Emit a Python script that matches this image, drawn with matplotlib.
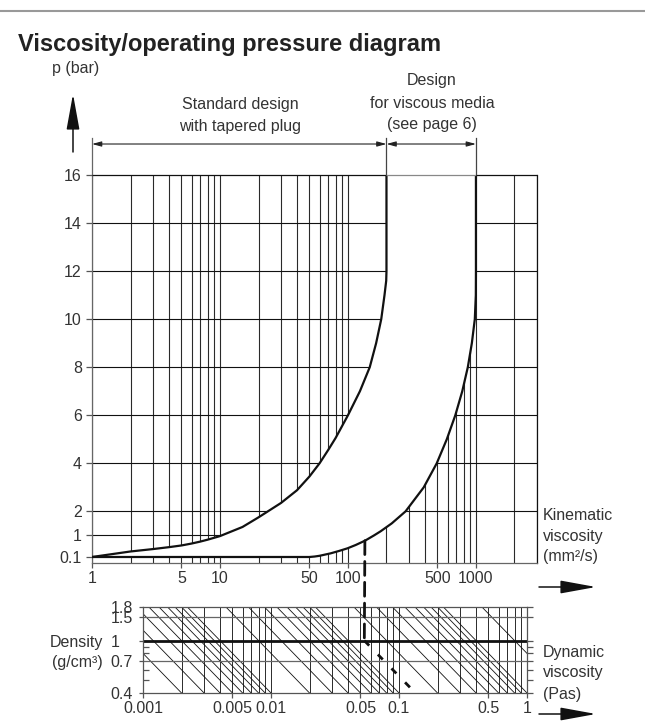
import numpy as np
import matplotlib.pyplot as plt
from matplotlib.patches import Polygon, ConnectionPatch
from matplotlib.lines import Line2D

plt.rcParams['font.family'] = ['Liberation Sans', 'DejaVu Sans']

W, H = 645, 724

# upper boundary of the standard design (kinematic viscosity mm2/s, pressure bar)
std_nu = [1, 2, 3, 4, 5, 6, 7, 8, 10, 15, 20, 30, 40, 50, 60, 70, 80, 100,
          124, 148, 166, 182, 193, 199, 200, 200]
std_p = [0.1, 0.33, 0.43, 0.51, 0.58, 0.66, 0.74, 0.82, 0.97, 1.35, 1.75, 2.35,
         2.88, 3.45, 4.0, 4.55, 5.05, 6.0, 7.0, 8.0, 9.0, 10.0, 11.0, 11.6, 12.0, 16.0]
# boundary of the design for viscous media
visc_nu = [1, 50, 55, 60, 73, 85, 99, 115, 136, 160, 180, 220, 282, 391, 494,
           592, 690, 782, 864, 929, 980, 998, 1000, 1000]
visc_p = [0.1, 0.1, 0.12, 0.15, 0.25, 0.35, 0.46, 0.6, 0.78, 1.0, 1.17, 1.5, 2.0,
          3.0, 4.0, 5.0, 6.0, 7.0, 8.0, 9.0, 10.0, 11.0, 12.0, 16.0]

kin_grid = [1, 2, 3, 4, 5, 6, 7, 8, 9, 10, 20, 30, 40, 50, 60, 70, 80, 90, 100,
            200, 300, 400, 500, 600, 700, 800, 900, 1000, 2000, 3000]
p_grid = [2, 4, 6, 8, 10, 12, 14]
kin_ticks = [1, 5, 10, 50, 100, 500, 1000]
p_ticks = [0.1, 1, 2, 4, 6, 8, 10, 12, 14, 16]
p_labels = ['0.1', '1', '2', '4', '6', '8', '10', '12', '14', '16']

dyn_grid = [0.001, 0.002, 0.003, 0.004, 0.005, 0.006, 0.007, 0.008, 0.009,
            0.01, 0.02, 0.03, 0.04, 0.05, 0.06, 0.07, 0.08, 0.09,
            0.1, 0.2, 0.3, 0.4, 0.5, 0.6, 0.7, 0.8, 0.9, 1.0]
dyn_ticks = [0.001, 0.005, 0.01, 0.05, 0.1, 0.5, 1]
dyn_labels = ['0.001', '0.005', '0.01', '0.05', '0.1', '0.5', '1']
dens_ticks = [0.4, 0.7, 1.0, 1.5, 1.8]
dens_labels = ['0.4', '0.7', '1', '1.5', '1.8']
dens_minor = [0.5, 0.6, 0.8, 0.9]
# diagonal conversion lines, given by where they meet the 0.4 density line
diag_ends = [0.002, 0.003, 0.004, 0.005, 0.006, 0.007, 0.008, 0.009, 0.01,
             0.02, 0.03, 0.04, 0.05, 0.06, 0.07, 0.08, 0.09, 0.1,
             0.2, 0.3, 0.4, 0.5, 0.6, 0.7, 0.8, 0.9, 1.0, 2.0]

# example reading (dashed)
ex_nu, ex_p = 135.6, 0.78
ex_eta, ex_rho = 0.0536, 1.0
ex_eta_end, ex_rho_end = 0.125, 0.43


def fx(x):
    return x / W


def fy(y):
    return 1 - y / H


fig = plt.figure(figsize=(W / 100, H / 100), dpi=100)
txt = '#333333'

# ---------------- main diagram ----------------
ax = fig.add_axes([fx(92), fy(563), fx(445), 388 / H])
ax.set_xscale('log')
ax.set_xlim(1, 3000)
ax.set_ylim(-0.15, 16)

ax.vlines(kin_grid, -0.15, 16, color='#2a2a2a', lw=0.8, zorder=1)
ax.hlines(p_grid, 1, 3000, color='#111111', lw=0.8, zorder=1)
ax.hlines(1, 1, 10, color='#111111', lw=0.8, zorder=1)

band = list(zip(std_nu, std_p)) + list(zip(visc_nu[::-1], visc_p[::-1]))
ax.add_patch(Polygon(band, closed=True, facecolor='white', edgecolor='none', zorder=2))

ax.plot(std_nu, std_p, color='#111111', lw=1.6, zorder=3, solid_joinstyle='round')
ax.plot(visc_nu, visc_p, color='#111111', lw=1.6, zorder=3, solid_joinstyle='round')

ax.hlines(16, 1, 200, color='#111111', lw=0.9, zorder=3, clip_on=False)
ax.hlines(16, 200, 1000, color='#888888', lw=0.9, zorder=3, clip_on=False)
ax.hlines(16, 1000, 3000, color='#111111', lw=0.9, zorder=3, clip_on=False)

ax.spines['top'].set_visible(False)
ax.spines['left'].set_color('#666666')
ax.spines['bottom'].set_color('#666666')
ax.spines['right'].set_color('#111111')
for s in ['left', 'bottom', 'right']:
    ax.spines[s].set_linewidth(0.9)

ax.set_xticks(kin_ticks)
ax.set_xticklabels([str(v) for v in kin_ticks])
ax.xaxis.set_minor_locator(plt.NullLocator())
ax.set_yticks(p_ticks)
ax.set_yticklabels(p_labels)
ax.tick_params(axis='x', direction='out', length=3.6, width=0.9, color='#555555',
               labelsize=11.5, labelcolor=txt, pad=2)
ax.tick_params(axis='y', direction='out', length=4.3, width=0.9, color='#555555',
               labelsize=11.5, labelcolor=txt, pad=3)

# design ranges above the diagram
ytop = 17.54
yarr = 17.29
ax.plot([1, 1], [16, ytop], color='#666666', lw=0.9, clip_on=False)
ax.plot([200, 200], [16, ytop], color='#444444', lw=0.9, clip_on=False)
ax.plot([1000, 1000], [16, ytop], color='#444444', lw=0.9, clip_on=False)
for a, b in [(1, 200), (200, 1000)]:
    ax.annotate('', xy=(a, yarr), xytext=(b, yarr), annotation_clip=False,
                arrowprops=dict(arrowstyle='<|-|>,head_length=0.55,head_width=0.15',
                                lw=0.8, color='#222222', shrinkA=0, shrinkB=0,
                                mutation_scale=10))

# ---------------- density / dynamic viscosity ----------------
ax2 = fig.add_axes([fx(143), fy(693), fx(384), 86 / H])
ax2.set_xscale('log')
ax2.set_yscale('log')
ax2.set_xlim(0.001, 1)
ax2.set_ylim(0.4, 1.8)

ax2.vlines(dyn_grid, 0.4, 1.8, color='#2a2a2a', lw=0.7, zorder=1)
for v in diag_ends:
    ax2.plot([v * 0.4 / 1.8, v], [1.8, 0.4], color='#111111', lw=0.6, zorder=1)
ax2.hlines([1.5, 0.7], 0.001, 1, color='#666666', lw=0.9, zorder=2)
ax2.hlines(1.0, 0.001, 1, color='#111111', lw=2.0, zorder=2)
for s in ax2.spines.values():
    s.set_color('#555555')
    s.set_linewidth(0.9)

ax2.set_xticks(dyn_ticks)
ax2.set_xticklabels(dyn_labels)
ax2.xaxis.set_minor_locator(plt.NullLocator())
ax2.set_yticks(dens_ticks)
ax2.set_yticklabels(dens_labels)
ax2.set_yticks(dens_minor, minor=True)
ax2.yaxis.set_minor_formatter(plt.NullFormatter())
ax2.tick_params(axis='x', direction='out', length=3.6, width=0.9, color='#555555',
                labelsize=11.5, labelcolor=txt, pad=2)
ax2.tick_params(axis='y', which='major', direction='out', length=3.2, width=0.9,
                color='#555555', labelsize=11.5, labelcolor=txt, pad=20)
ax2.tick_params(axis='y', which='minor', direction='in', length=4, width=0.9,
                color='#555555')
for lbl in ax2.get_yticklabels():
    lbl.set_ha('left')

ax2r = ax2.twinx()
ax2r.set_yscale('log')
ax2r.set_ylim(0.4, 1.8)
ax2r.set_yticks(dens_ticks)
ax2r.set_yticks(dens_minor, minor=True)
ax2r.yaxis.set_major_formatter(plt.NullFormatter())
ax2r.yaxis.set_minor_formatter(plt.NullFormatter())
ax2r.tick_params(axis='y', which='both', direction='out', length=4, width=0.9,
                 color='#555555')
for s in ax2r.spines.values():
    s.set_visible(False)

# example reading
con = ConnectionPatch(xyA=(ex_nu, ex_p), coordsA=ax.transData,
                      xyB=(ex_eta, ex_rho), coordsB=ax2.transData,
                      color='#111111', lw=2.0, linestyle=(0, (5, 2.5)), zorder=5)
fig.add_artist(con)
ax2.plot([ex_eta, ex_eta_end], [ex_rho, ex_rho_end], color='#111111', lw=2.0,
         linestyle=(0, (2.5, 4.5)), zorder=5)

# ---------------- texts and arrows ----------------
fig.add_artist(Line2D([0, 1], [fy(11), fy(11)], color='#999999', lw=1.5))
fig.text(fx(18), fy(51), 'Viscosity/operating pressure diagram', fontsize=17,
         fontweight='bold', color='#222222', ha='left', va='baseline')

fig.text(fx(76), fy(68), 'p (bar)', fontsize=11.5, color=txt, ha='center', va='center')
fig.text(fx(240), fy(104), 'Standard design', fontsize=11.5, color=txt, ha='center', va='center')
fig.text(fx(240), fy(126), 'with tapered plug', fontsize=11.5, color=txt, ha='center', va='center')
fig.text(fx(432), fy(81), 'Design', fontsize=11.5, color=txt, ha='center', va='center')
fig.text(fx(432), fy(103), 'for viscous media', fontsize=11.5, color=txt, ha='center', va='center')
fig.text(fx(432), fy(125), '(see page 6)', fontsize=11.5, color=txt, ha='center', va='center')

for i, s in enumerate(['Kinematic', 'viscosity', '(mm\u00b2/s)']):
    fig.text(fx(543), fy(515 + 21 * i), s, fontsize=11.5, color=txt, ha='left', va='center')
for i, s in enumerate(['Dynamic', 'viscosity', '(Pas)']):
    fig.text(fx(543), fy(652 + 21 * i), s, fontsize=11.5, color=txt, ha='left', va='center')
fig.text(fx(103), fy(642), 'Density', fontsize=11.5, color=txt, ha='right', va='center')
fig.text(fx(103), fy(663), '(g/cm\u00b3)', fontsize=11.5, color=txt, ha='right', va='center')

big_head = dict(arrowstyle='-|>,head_length=2.2,head_width=0.4', lw=1.1,
                color='#111111', shrinkA=0, shrinkB=0, mutation_scale=10)
ax.annotate('', xy=(73, H - 94), xytext=(73, H - 152), xycoords='figure pixels',
            textcoords='figure pixels', arrowprops=big_head, annotation_clip=False)
ax.annotate('', xy=(596, H - 587), xytext=(539, H - 587), xycoords='figure pixels',
            textcoords='figure pixels', arrowprops=big_head, annotation_clip=False)
ax.annotate('', xy=(596, H - 714), xytext=(539, H - 714), xycoords='figure pixels',
            textcoords='figure pixels', arrowprops=big_head, annotation_clip=False)

fig.savefig('out.png', dpi=100)
